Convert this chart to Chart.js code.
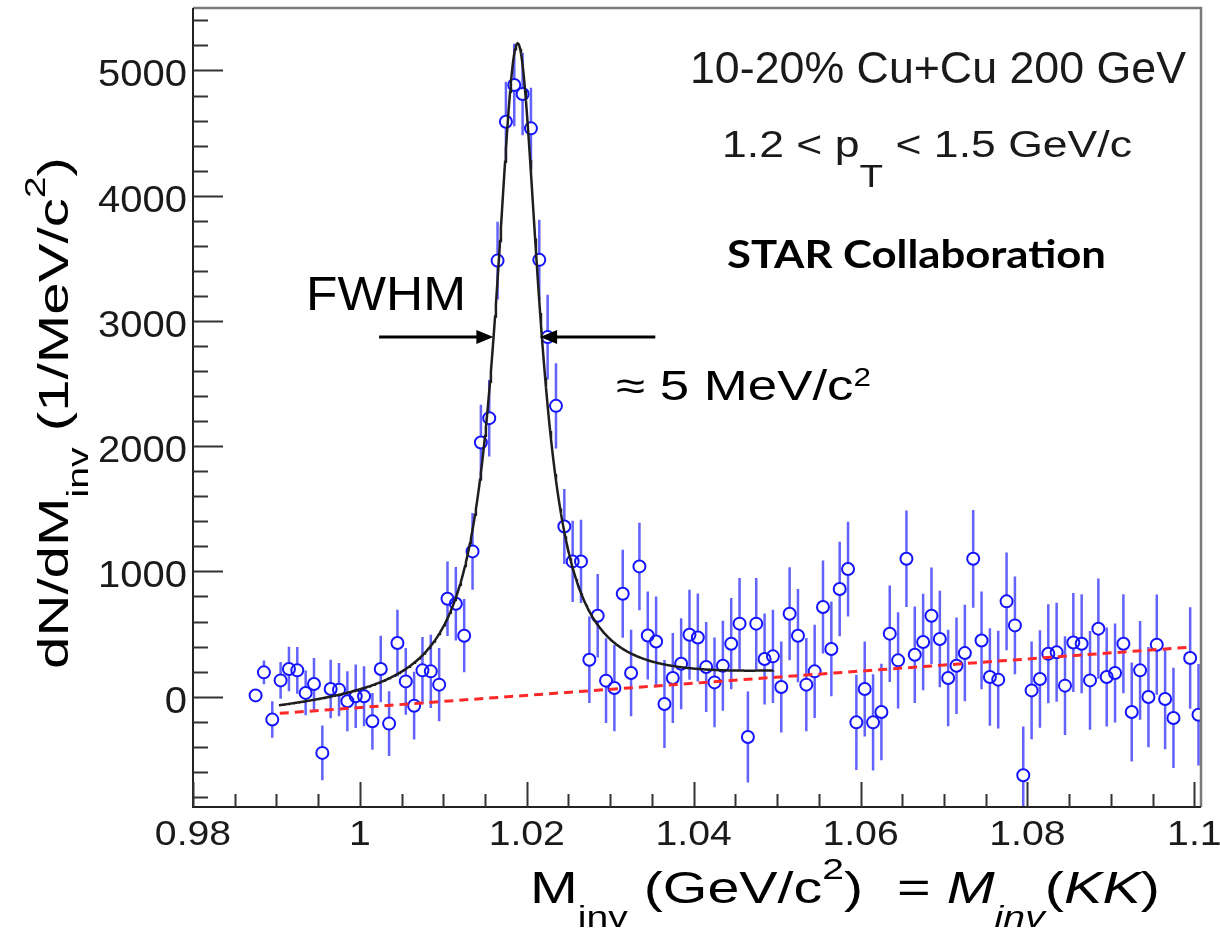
<!DOCTYPE html>
<html>
<head>
<meta charset="utf-8">
<script src="https://cdn.jsdelivr.net/npm/chart.js@4.4.1/dist/chart.umd.min.js"></script>
<style>
  html, body { margin: 0; padding: 0; background: #fff; }
  canvas { display: block; }
</style>
</head>
<body>
<canvas id="phiChart" width="1220" height="936"></canvas>
<script>
// invariant mass bin centres (GeV/c^2), 1 MeV bins
var mass = [
  0.9875, 0.9885, 0.9895, 0.9905, 0.9915, 0.9925, 0.9935, 0.9945, 0.9955, 0.9965,
  0.9975, 0.9985, 0.9995, 1.0005, 1.0015, 1.0025, 1.0035, 1.0045, 1.0055, 1.0065,
  1.0075, 1.0085, 1.0095, 1.0105, 1.0115, 1.0125, 1.0135, 1.0145, 1.0155, 1.0165,
  1.0175, 1.0185, 1.0195, 1.0205, 1.0215, 1.0225, 1.0235, 1.0245, 1.0255, 1.0265,
  1.0275, 1.0285, 1.0295, 1.0305, 1.0315, 1.0325, 1.0335, 1.0345, 1.0355, 1.0365,
  1.0375, 1.0385, 1.0395, 1.0405, 1.0415, 1.0425, 1.0435, 1.0445, 1.0455, 1.0465,
  1.0475, 1.0485, 1.0495, 1.0505, 1.0515, 1.0525, 1.0535, 1.0545, 1.0555, 1.0565,
  1.0575, 1.0585, 1.0595, 1.0605, 1.0615, 1.0625, 1.0635, 1.0645, 1.0655, 1.0665,
  1.0675, 1.0685, 1.0695, 1.0705, 1.0715, 1.0725, 1.0735, 1.0745, 1.0755, 1.0765,
  1.0775, 1.0785, 1.0795, 1.0805, 1.0815, 1.0825, 1.0835, 1.0845, 1.0855, 1.0865,
  1.0875, 1.0885, 1.0895, 1.0905, 1.0915, 1.0925, 1.0935, 1.0945, 1.0955, 1.0965,
  1.0975, 1.0985, 1.0995, 1.1005
];
// dN/dM_inv (1/MeV/c^2)
var yields = [
  10, 194, -183, 130, 221, 210, 30, 101, -449, 61,
  56, -37, 3, 3, -197, 221, -215, 428, 122, -72,
  210, 202, 96, 782, 742, 487, 1160, 2030, 2224, 3482,
  4591, 4884, 4812, 4538, 3488, 2871, 2322, 1359, 1080, 1080,
  295, 646, 128, 69, 822, 189, 1040, 489, 441, -58,
  149, 263, 495, 473, 237, 114, 247, 423, 583, -322,
  583, 301, 322, 77, 662, 487, 96, 202, 716, 381,
  860, 1019, -205, 61, -205, -122, 503, 290, 1101, 335,
  437, 646, 460, 149, 247, 348, 1101, 449, 157, 136,
  761, 569, -628, 50, 141, 343, 354, 88, 433, 423,
  130, 543, 157, 189, 423, -122, 210, -3, 415, -19,
  -170, null, 309, -144
];
var errors = [
  50, 95, 146, 146, 178, 186, 178, 207, 218, 234,
  213, 239, 253, 239, 226, 266, 258, 266, 266, 271,
  266, 293, 293, 298, 293, 293, 306, 300, 306, 311,
  320, 330, 330, 325, 320, 338, 340, 300, 325, 333,
  346, 333, 338, 346, 351, 346, 349, 351, 359, 351,
  359, 364, 359, 351, 359, 359, 359, 364, 364, 364,
  364, 364, 372, 364, 372, 372, 372, 372, 372, 378,
  378, 378, 380, 380, 385, 385, 385, 385, 385, 385,
  385, 385, 385, 385, 385, 385, 390, 390, 390, 390,
  390, 390, 390, 390, 390, 395, 395, 395, 395, 395,
  395, 400, 395, 395, 395, 395, 395, 400, 400, 400,
  400, 0, 405, 405
];

// fit: Breit-Wigner on top of a linear residual background
var BW_AMP = 5212;
var BW_MASS = 1.0189;
var BW_HALF = 0.0032;
var FIT_RANGE = [0.9903, 1.0495];
var bgMass = [0.9904, 1.0992];
var bgYield = [-133, 394];

// FWHM arrows (data coordinates)
var fwhmLevel = 2872;
var fwhmLeft = [1.0023, 1.0160];
var fwhmRight = [1.0354, 1.0216];

var xTicks = ['0.98', '1', '1.02', '1.04', '1.06', '1.08', '1.1'];
var yTicks = [0, 1000, 2000, 3000, 4000, 5000];

function background(m) {
  var slope = (bgYield[1] - bgYield[0]) / (bgMass[1] - bgMass[0]);
  return bgYield[0] + slope * (m - bgMass[0]);
}
function fitFunc(m) {
  var g2 = BW_HALF * BW_HALF;
  return BW_AMP * g2 / ((m - BW_MASS) * (m - BW_MASS) + g2) + background(m);
}

var points = [];
for (var i = 0; i < mass.length; i++) {
  if (yields[i] !== null) points.push({ x: mass[i], y: yields[i], e: errors[i] });
}
var fitLine = [];
for (var m = FIT_RANGE[0]; m <= FIT_RANGE[1] + 1e-9; m += 0.0001) {
  fitLine.push({ x: m, y: fitFunc(m) });
}
var bgLine = [
  { x: bgMass[0], y: bgYield[0] },
  { x: bgMass[1], y: bgYield[1] }
];

var SANS = '"Liberation Sans", Arial, Helvetica, sans-serif';

// draw a run of text pieces (sub/superscripts) stretched to a given width
function richText(ctx, runs, x, y, width, rotate) {
  var total = 0;
  runs.forEach(function (r) {
    ctx.font = r.font;
    r.w = ctx.measureText(r.t).width;
    total += r.w;
  });
  var sx = width ? width / total : 1;
  ctx.save();
  ctx.translate(x, y);
  if (rotate) ctx.rotate(-Math.PI / 2);
  ctx.scale(sx, 1);
  var cx = 0;
  runs.forEach(function (r) {
    ctx.font = r.font;
    ctx.fillText(r.t, cx, r.dy || 0);
    cx += r.w;
  });
  ctx.restore();
}

var errorBars = {
  id: 'errorBars',
  beforeDatasetsDraw: function (chart) {
    var ctx = chart.ctx, xs = chart.scales.x, ys = chart.scales.y, a = chart.chartArea;
    var r = 6;
    ctx.save();
    ctx.beginPath();
    ctx.rect(a.left, a.top, a.right - a.left, a.bottom - a.top);
    ctx.clip();
    ctx.strokeStyle = 'rgba(70,70,255,0.85)';
    ctx.lineWidth = 2.5;
    points.forEach(function (p) {
      var px = xs.getPixelForValue(p.x);
      var py = ys.getPixelForValue(p.y);
      var top = ys.getPixelForValue(p.y + p.e);
      var bot = ys.getPixelForValue(p.y - p.e);
      ctx.beginPath();
      if (py - top > r) { ctx.moveTo(px, top); ctx.lineTo(px, py - r); }
      if (bot - py > r) { ctx.moveTo(px, py + r); ctx.lineTo(px, bot); }
      ctx.stroke();
    });
    ctx.restore();
  }
};

function arrow(ctx, x0, x1, y) {
  var dir = x1 > x0 ? 1 : -1;
  ctx.beginPath();
  ctx.moveTo(x0, y);
  ctx.lineTo(x1 - dir * 14, y);
  ctx.stroke();
  ctx.beginPath();
  ctx.moveTo(x1, y);
  ctx.lineTo(x1 - dir * 17, y - 7);
  ctx.lineTo(x1 - dir * 17, y + 7);
  ctx.closePath();
  ctx.fill();
}

var frameAndText = {
  id: 'frameAndText',
  afterDraw: function (chart) {
    var ctx = chart.ctx, xs = chart.scales.x, ys = chart.scales.y, a = chart.chartArea;
    ctx.save();

    // frame
    ctx.lineWidth = 2.5;
    ctx.strokeStyle = '#7a7a7a';
    ctx.beginPath();
    ctx.moveTo(a.left, a.top); ctx.lineTo(a.right, a.top); ctx.lineTo(a.right, a.bottom);
    ctx.stroke();
    ctx.strokeStyle = '#222';
    ctx.lineWidth = 2;
    ctx.beginPath();
    ctx.moveTo(a.left, a.top); ctx.lineTo(a.left, a.bottom); ctx.lineTo(a.right, a.bottom);
    ctx.stroke();

    // inward tick marks
    ctx.lineWidth = 2;
    ctx.strokeStyle = '#333';
    ctx.beginPath();
    for (var v = -800; v <= 5400; v += 200) {
      var py = Math.round(ys.getPixelForValue(v)) + 0.5;
      var len = (v % 1000 === 0) ? 30 : 15;
      ctx.moveTo(a.left, py); ctx.lineTo(a.left + len, py);
    }
    for (var k = 0; k <= 24; k++) {
      var px = Math.round(xs.getPixelForValue(0.98 + k * 0.005)) + 0.5;
      var l = (k % 4 === 0) ? 25 : 13;
      ctx.moveTo(px, a.bottom); ctx.lineTo(px, a.bottom - l);
    }
    ctx.stroke();

    // tick labels
    ctx.fillStyle = '#1a1a1a';
    ctx.textBaseline = 'alphabetic';
    yTicks.forEach(function (t) {
      var s = String(t);
      ctx.font = '36px ' + SANS;
      var w = ctx.measureText(s).width * 1.11;
      richText(ctx, [{ t: s, font: '36px ' + SANS }], a.left - 6 - w, ys.getPixelForValue(t) + 16, w);
    });
    xTicks.forEach(function (s) {
      ctx.font = '35px ' + SANS;
      var w = ctx.measureText(s).width * 1.12;
      richText(ctx, [{ t: s, font: '35px ' + SANS }], xs.getPixelForValue(parseFloat(s)) - w / 2, 845, w);
    });

    // axis titles
    ctx.fillStyle = '#000';
    richText(ctx, [
      { t: 'dN/dM', font: '43px ' + SANS },
      { t: 'inv', font: '29px ' + SANS, dy: 20 },
      { t: ' (1/MeV/c', font: '43px ' + SANS },
      { t: '2', font: '29px ' + SANS, dy: -23 },
      { t: ')', font: '43px ' + SANS }
    ], 68, 669, 512, true);

    richText(ctx, [
      { t: 'M', font: '44px ' + SANS },
      { t: 'inv', font: '30px ' + SANS, dy: 24 },
      { t: ' (GeV/c', font: '44px ' + SANS },
      { t: '2', font: '30px ' + SANS, dy: -24 },
      { t: ')', font: '44px ' + SANS }
    ], 530, 903, 333);
    richText(ctx, [
      { t: '= ', font: '44px ' + SANS },
      { t: 'M', font: 'italic 44px ' + SANS },
      { t: 'inv', font: 'italic 30px ' + SANS, dy: 24 },
      { t: '(', font: '44px ' + SANS },
      { t: 'KK', font: 'italic 44px ' + SANS },
      { t: ')', font: '44px ' + SANS }
    ], 897, 903, 263);

    // annotations
    ctx.fillStyle = '#1a1a1a';
    richText(ctx, [{ t: '10-20% Cu+Cu 200 GeV', font: '44px ' + SANS }], 690, 83, 496);
    richText(ctx, [
      { t: '1.2 < p', font: '37px ' + SANS },
      { t: 'T', font: '32px ' + SANS, dy: 30 },
      { t: ' < 1.5 GeV/c', font: '37px ' + SANS }
    ], 722, 157, 410);
    ctx.fillStyle = '#000';
    richText(ctx, [{ t: 'STAR Collaboration', font: 'bold 39px Lato, "Open Sans", sans-serif' }], 727, 268, 379);
    richText(ctx, [{ t: 'FWHM', font: '49px ' + SANS }], 306, 310, 160);
    richText(ctx, [
      { t: '\u2248 5 MeV/c', font: '42px ' + SANS },
      { t: '2', font: '25px ' + SANS, dy: -14 }
    ], 616, 400, 255);

    // FWHM arrows
    ctx.strokeStyle = '#000';
    ctx.fillStyle = '#000';
    ctx.lineWidth = 3;
    var ay = ys.getPixelForValue(fwhmLevel);
    arrow(ctx, xs.getPixelForValue(fwhmLeft[0]), xs.getPixelForValue(fwhmLeft[1]), ay);
    arrow(ctx, xs.getPixelForValue(fwhmRight[0]), xs.getPixelForValue(fwhmRight[1]), ay);

    ctx.restore();
  }
};

var ctx = document.getElementById('phiChart').getContext('2d');
var chart = new Chart(ctx, {
  type: 'scatter',
  data: {
    datasets: [
      {
        label: 'fit',
        data: fitLine,
        showLine: true,
        borderColor: 'rgb(30,30,30)',
        borderWidth: 2.5,
        pointRadius: 0,
        tension: 0,
        order: 0
      },
      {
        label: 'background',
        data: bgLine,
        showLine: true,
        borderColor: 'rgb(255,40,40)',
        borderWidth: 3,
        borderDash: [9, 6],
        pointRadius: 0,
        order: 1
      },
      {
        label: 'data',
        data: points,
        showLine: false,
        pointStyle: 'circle',
        pointRadius: 6,
        pointBorderWidth: 2,
        pointBorderColor: 'rgb(20,20,255)',
        pointBackgroundColor: 'rgba(0,0,0,0)',
        order: 2
      }
    ]
  },
  options: {
    responsive: false,
    animation: false,
    layout: { padding: { left: 193, right: 19, top: 8, bottom: 129 } },
    plugins: { legend: { display: false }, tooltip: { enabled: false } },
    scales: {
      x: { type: 'linear', min: 0.98, max: 1.1008, display: false },
      y: { type: 'linear', min: -881, max: 5499, display: false }
    }
  },
  plugins: [errorBars, frameAndText]
});
</script>
</body>
</html>
